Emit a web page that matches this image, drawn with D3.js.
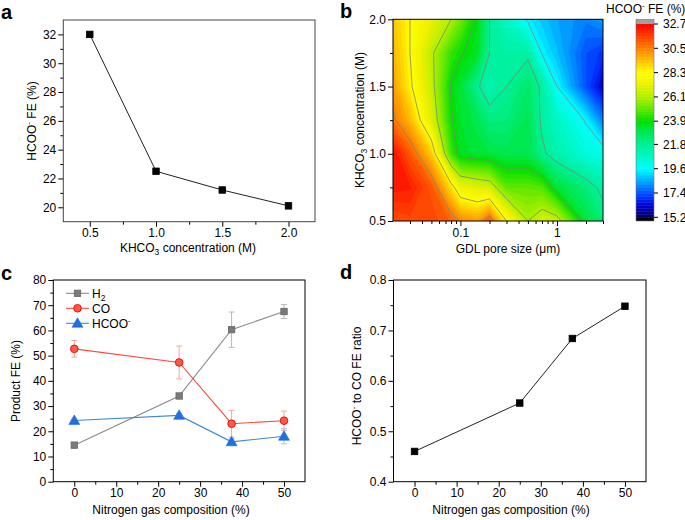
<!DOCTYPE html>
<html><head><meta charset="utf-8">
<script src="https://cdn.jsdelivr.net/npm/d3@7"></script>
<style>body{margin:0;background:#fff} svg text{font-family:"Liberation Sans",Arial,sans-serif}</style>
</head><body><svg id="c" width="685" height="520"></svg>
<script>
// ---------------- DATA ----------------
// panel a
const concA = [0.5, 1.0, 1.5, 2.0];
const feA = [32.0, 22.5, 21.2, 20.1];

// panel b (contour map): pore sizes (um) x KHCO3 concentration (M)
const poreSizes = [0.02, 0.03, 0.05, 0.08, 0.1, 0.15, 0.2, 0.3, 0.5, 0.7, 1.0, 2.0, 3.0];
const concB = [0.5, 0.75, 1.0, 1.25, 1.5, 1.75, 2.0];
const feB_050 = [31.3, 31.5, 31.5, 31.0, 30.4, 30.0, 31.2, 28.3, 26.1, 26.8, 26.6, 23.3, 22.3];
const feB_075 = [32.3, 32.2, 31.2, 28.8, 27.4, 27.0, 26.8, 25.0, 25.0, 24.8, 23.3, 22.3, 21.5];
const feB_100 = [32.5, 31.2, 29.2, 24.6, 23.5, 23.3, 23.2, 23.0, 23.0, 22.0, 21.3, 20.3, 20.1];
const feB_125 = [30.7, 29.5, 27.0, 24.0, 23.4, 23.0, 22.2, 22.3, 23.0, 21.6, 20.8, 19.5, 18.0];
const feB_150 = [30.0, 28.5, 26.5, 23.8, 23.3, 21.9, 21.3, 21.8, 22.6, 21.6, 19.6, 17.4, 16.2];
const feB_175 = [29.6, 28.3, 26.3, 24.5, 24.0, 23.5, 21.8, 21.5, 21.6, 19.5, 18.8, 17.4, 17.0];
const feB_200 = [29.3, 28.3, 27.2, 26.1, 25.2, 23.7, 21.8, 20.8, 19.4, 18.9, 18.5, 18.0, 18.4];
const cbTicks = [15.2, 17.4, 19.6, 21.8, 23.9, 26.1, 28.3, 30.5, 32.7];
const lineLevels = [19.6, 21.8, 23.9, 26.1, 28.3, 30.5];

// panel c
const n2 = [0, 25, 37.5, 50];
const h2 = [14.5, 34.0, 60.3, 67.5];
const h2Err = [0.6, 0.8, 7.0, 2.8];
const co = [52.7, 47.3, 23.0, 24.2];
const coErr = [3.3, 6.5, 5.3, 3.8];
const hcoo = [24.3, 26.3, 15.8, 18.0];
const hcooErr = [0.6, 0.8, 1.2, 3.0];

// panel d
const ratio = [0.46, 0.556, 0.684, 0.748];

// ---------------- HELPERS ----------------
const svg = d3.select("#c");
const FS = 12;

function label(g, x, y, parts, opt = {}) {
  const t = g.append("text").attr("x", x).attr("y", y).attr("font-size", opt.size || FS)
    .attr("text-anchor", opt.anchor || "middle").attr("fill", "#000");
  if (opt.rotate) t.attr("transform", `rotate(-90,${x},${y})`);
  if (opt.bold) t.attr("font-weight", "bold");
  let shift = 0;
  parts.forEach(p => {
    const s = t.append("tspan").text(p.t);
    let target = 0;
    if (p.sup) { target = -5; s.attr("font-size", 8); }
    if (p.sub) { target = 3; s.attr("font-size", 8.5); }
    s.attr("dy", target - shift);
    shift = target;
  });
  return t;
}

function axes(g, x, y, o) {
  const [x0, x1] = x.range(), [y0, y1] = y.range();
  const gx = g.append("g").attr("transform", `translate(0,${y0})`)
    .call(d3.axisBottom(x).tickValues(o.xMajor).tickFormat(o.xFmt).tickSizeInner(5).tickSizeOuter(0).tickPadding(2));
  const gxm = g.append("g").attr("transform", `translate(0,${y0})`)
    .call(d3.axisBottom(x).tickValues(o.xMinor).tickFormat("").tickSizeInner(3).tickSizeOuter(0));
  const gy = g.append("g").attr("transform", `translate(${x0},0)`)
    .call(d3.axisLeft(y).tickValues(o.yMajor).tickFormat(o.yFmt).tickSizeInner(5).tickSizeOuter(0).tickPadding(2));
  const gym = g.append("g").attr("transform", `translate(${x0},0)`)
    .call(d3.axisLeft(y).tickValues(o.yMinor).tickFormat("").tickSizeInner(3).tickSizeOuter(0));
  [gx, gxm, gy, gym].forEach(a => {
    a.select(".domain").remove();
    a.attr("font-family", null).attr("font-size", null);
    a.selectAll("text").attr("font-size", FS).attr("fill", "#000");
    a.selectAll("line").attr("stroke", "#000");
  });
  g.append("rect").attr("x", x0).attr("y", y1).attr("width", x1 - x0).attr("height", y0 - y1)
    .attr("fill", "none").attr("stroke", o.frame || "#000").attr("stroke-width", 1);
}

function squares(g, xs, ys, x, y, size, fill, stroke) {
  g.selectAll(null).data(xs).enter().append("rect")
    .attr("x", (d, i) => x(d) - size / 2).attr("y", (d, i) => y(ys[i]) - size / 2)
    .attr("width", size).attr("height", size).attr("fill", fill).attr("stroke", stroke).attr("stroke-width", 0.8);
}

// ---------------- PANEL A ----------------
const xA = d3.scaleLinear().domain([0.3, 2.2]).range([63.3, 315]);
const yA = d3.scaleLinear().domain([19, 33]).range([221.7, 20]);
const gA = svg.append("g");
axes(gA, xA, yA, {
  xMajor: [0.5, 1.0, 1.5, 2.0], xMinor: [0.75, 1.25, 1.75], xFmt: d3.format(".1f"),
  yMajor: [20, 22, 24, 26, 28, 30, 32], yMinor: [21, 23, 25, 27, 29, 31], yFmt: d3.format("d"), frame: "#444"
});
gA.append("path").datum(concA.map((c, i) => [c, feA[i]]))
  .attr("d", d3.line().x(d => xA(d[0])).y(d => yA(d[1]))).attr("fill", "none").attr("stroke", "#222").attr("stroke-width", 1);
squares(gA, concA, feA, xA, yA, 6.5, "#000", "#000");
label(gA, 188, 252, [{t: "KHCO"}, {t: "3", sub: true}, {t: " concentration (M)"}]);
label(gA, 35.5, 121, [{t: "HCOO"}, {t: "-", sup: true}, {t: " FE (%)"}], {rotate: true});
label(gA, 1, 19, [{t: "a"}], {anchor: "start", size: 20, bold: true});

// ---------------- PANEL B ----------------
const xB = d3.scaleLog().domain([0.02, 3]).range([393, 603]);
const yB = d3.scaleLinear().domain([0.5, 2.0]).range([221, 19.3]);
const gB = svg.append("g");
const colorStops = [15.2, 15.6, 16.3, 17.0, 17.4, 18.5, 19.6, 20.7, 21.8, 23.0, 23.9, 25.0, 26.1, 27.3, 28.3, 29.4, 30.5, 31.6, 32.7];
const colorVals = ["#000050", "#00008c", "#0000d0", "#0030ff", "#0050ff", "#00a8ff", "#00ffff", "#00f8c8", "#00f098", "#00e850",
  "#00e000", "#60e800", "#b0f000", "#f0f000", "#ffff00", "#ffc000", "#ff8000", "#ff4000", "#ff0000"];
const color = d3.scaleLinear().domain(colorStops).range(colorVals).interpolate(d3.interpolateRgb);

const rowsB = [feB_050, feB_075, feB_100, feB_125, feB_150, feB_175, feB_200];
const nx = poreSizes.length, ny = concB.length;
const grid = [];
rowsB.forEach(r => r.forEach(v => grid.push(v)));
const lx = poreSizes.map(Math.log10);
function idx(c, arr) {
  const f = Math.max(0, Math.min(arr.length - 1, c - 0.5));
  const i = Math.min(arr.length - 2, Math.floor(f));
  const t = f - i;
  return arr[i] * (1 - t) + arr[i + 1] * t;
}
const toPx = p => [xB(Math.pow(10, idx(p[0], lx))), yB(idx(p[1], concB))];

const nBands = 64;
const step = (32.7 - 15.2) / nBands;
const bandT = d3.range(nBands).map(i => 15.2 + i * step);
bandT[0] = 10;
const bands = d3.contours().size([nx, ny]).thresholds(bandT)(grid);

svg.append("clipPath").attr("id", "clipB").append("rect")
  .attr("x", 393).attr("y", 19.3).attr("width", 210).attr("height", 221 - 19.3);
const gMap = gB.append("g").attr("clip-path", "url(#clipB)");
function ringPath(coords) {
  return coords.map(poly => poly.map(ring => "M" + ring.map(p => toPx(p).join(",")).join("L") + "Z").join("")).join("");
}
bands.forEach((b, i) => {
  const v = 15.2 + (i + 0.5) * step;
  gMap.append("path").attr("d", ringPath(b.coordinates)).attr("fill", color(v))
    .attr("stroke", color(v)).attr("stroke-width", 0.3).attr("fill-rule", "evenodd");
});
// contour lines
const lines = d3.contours().size([nx, ny]).thresholds(lineLevels)(grid);
lines.forEach(l => {
  let d = "";
  l.coordinates.forEach(poly => poly.forEach(ring => {
    for (let k = 0; k < ring.length - 1; k++) {
      const a = ring[k], b = ring[k + 1];
      const onEdge = q => (q[0] <= 0.5 || q[0] >= nx - 0.5 || q[1] <= 0.5 || q[1] >= ny - 0.5);
      const sameEdge = (a[0] <= 0.5 && b[0] <= 0.5) || (a[0] >= nx - 0.5 && b[0] >= nx - 0.5) ||
        (a[1] <= 0.5 && b[1] <= 0.5) || (a[1] >= ny - 0.5 && b[1] >= ny - 0.5);
      if (onEdge(a) && onEdge(b) && sameEdge) continue;
      const pa = toPx(a), pb = toPx(b);
      d += "M" + pa.join(",") + "L" + pb.join(",");
    }
  }));
  gMap.append("path").attr("d", d).attr("fill", "none").attr("stroke", "#7a8a70").attr("stroke-width", 0.8);
});
axes(gB, xB, yB, {
  xMajor: [0.1, 1], xMinor: [0.03, 0.04, 0.05, 0.06, 0.07, 0.08, 0.09, 0.2, 0.3, 0.4, 0.5, 0.6, 0.7, 0.8, 0.9, 2, 3], xFmt: d => String(d),
  yMajor: [0.5, 1.0, 1.5, 2.0], yMinor: [0.75, 1.25, 1.75], yFmt: d3.format(".1f")
});
label(gB, 508, 253, [{t: "GDL pore size (μm)"}]);
label(gB, 364, 120, [{t: "KHCO"}, {t: "3", sub: true}, {t: " concentration (M)"}], {rotate: true});
label(gB, 340, 17.5, [{t: "b"}], {anchor: "start", size: 20, bold: true});

// colorbar
const yCb = d3.scaleLinear().domain([15.2, 32.7]).range([217.3, 24]);
const cbX = 636, cbW = 18;
const gCb = gB.append("g");
d3.range(nBands).forEach(i => {
  const v0 = 15.2 + i * step, v1 = v0 + step;
  gCb.append("rect").attr("x", cbX).attr("y", yCb(v1)).attr("width", cbW).attr("height", yCb(v0) - yCb(v1) + 0.4)
    .attr("fill", color(v0 + step / 2));
});
gCb.append("rect").attr("x", cbX).attr("y", 19.3).attr("width", cbW).attr("height", yCb(32.7) - 19.3).attr("fill", "#a0a0a0");
gCb.append("rect").attr("x", cbX).attr("y", yCb(15.2)).attr("width", cbW).attr("height", 221 - yCb(15.2)).attr("fill", "#000");
gCb.append("rect").attr("x", cbX).attr("y", 19.3).attr("width", cbW).attr("height", 221 - 19.3)
  .attr("fill", "none").attr("stroke", "#777").attr("stroke-width", 0.6);
cbTicks.forEach(t => {
  gCb.append("line").attr("x1", cbX + cbW).attr("x2", cbX + cbW + 4).attr("y1", yCb(t)).attr("y2", yCb(t)).attr("stroke", "#000");
  gCb.append("text").attr("x", 663).attr("y", yCb(t)).attr("dy", "0.35em").attr("font-size", FS).text(t.toFixed(1));
});
label(gCb, 606, 13, [{t: "HCOO"}, {t: "-", sup: true}, {t: " FE (%)"}], {anchor: "start"});

// ---------------- PANEL C ----------------
const xC = d3.scaleLinear().domain([-5, 55]).range([53.3, 305]);
const yC = d3.scaleLinear().domain([0, 80]).range([481.7, 280]);
const gC = svg.append("g");
axes(gC, xC, yC, {
  xMajor: [0, 10, 20, 30, 40, 50], xMinor: [5, 15, 25, 35, 45], xFmt: d3.format("d"),
  yMajor: [0, 10, 20, 30, 40, 50, 60, 70, 80], yMinor: [5, 15, 25, 35, 45, 55, 65, 75], yFmt: d3.format("d")
});
const seriesC = [
  {v: h2, e: h2Err, line: "#8a8a8a", err: "#b8b8b8", fill: "#7a7a7a", stroke: "#666", m: "sq", name: [{t: "H"}, {t: "2", sub: true}]},
  {v: co, e: coErr, line: "#ff4a3a", err: "#f4a8a2", fill: "#ff5a48", stroke: "#e8100a", m: "ci", name: [{t: "CO"}]},
  {v: hcoo, e: hcooErr, line: "#3f86d8", err: "#a4c4ec", fill: "#1f6fdc", stroke: "#1f6fdc", m: "tr", name: [{t: "HCOO"}, {t: "-", sup: true}]}
];
function marker(g, type, cx, cy, s) {
  if (type === "sq") g.append("rect").attr("x", cx - 3.2).attr("y", cy - 3.2).attr("width", 6.4).attr("height", 6.4)
    .attr("fill", s.fill).attr("stroke", s.stroke).attr("stroke-width", 0.8);
  else if (type === "ci") g.append("circle").attr("cx", cx).attr("cy", cy).attr("r", 3.8)
    .attr("fill", s.fill).attr("stroke", s.stroke).attr("stroke-width", 1);
  else g.append("path").attr("d", d3.symbol(d3.symbolTriangle, 52)()).attr("transform", `translate(${cx},${cy + 0.8})`)
    .attr("fill", s.fill).attr("stroke", s.stroke).attr("stroke-width", 0.6);
}
seriesC.forEach(s => {
  n2.forEach((x, i) => {
    const cx = xC(x), t = yC(s.v[i] + s.e[i]), b = yC(s.v[i] - s.e[i]);
    gC.append("path").attr("d", `M${cx},${t}L${cx},${b}M${cx - 3},${t}L${cx + 3},${t}M${cx - 3},${b}L${cx + 3},${b}`)
      .attr("stroke", s.err).attr("stroke-width", 1).attr("fill", "none");
  });
});
seriesC.forEach(s => {
  gC.append("path").datum(n2.map((x, i) => [x, s.v[i]]))
    .attr("d", d3.line().x(d => xC(d[0])).y(d => yC(d[1]))).attr("fill", "none").attr("stroke", s.line).attr("stroke-width", 1.1);
});
seriesC.forEach(s => n2.forEach((x, i) => marker(gC, s.m, xC(x), yC(s.v[i]), s)));
// legend
seriesC.forEach((s, k) => {
  const ly = 293.3 + k * 15;
  gC.append("line").attr("x1", 66).attr("x2", 89).attr("y1", ly).attr("y2", ly).attr("stroke", s.line).attr("stroke-width", 1.1);
  marker(gC, s.m, 77.5, ly, s);
  label(gC, 92, ly + 4.3, s.name, {anchor: "start"});
});
label(gC, 171, 514, [{t: "Nitrogen gas composition (%)"}]);
label(gC, 20, 381, [{t: "Product FE (%)"}], {rotate: true});
label(gC, 1, 280, [{t: "c"}], {anchor: "start", size: 20, bold: true});

// ---------------- PANEL D ----------------
const xD = d3.scaleLinear().domain([-5, 55]).range([393.5, 646]);
const yD = d3.scaleLinear().domain([0.4, 0.8]).range([481.7, 280]);
const gD = svg.append("g");
axes(gD, xD, yD, {
  xMajor: [0, 10, 20, 30, 40, 50], xMinor: [5, 15, 25, 35, 45], xFmt: d3.format("d"),
  yMajor: [0.4, 0.5, 0.6, 0.7, 0.8], yMinor: [0.45, 0.55, 0.65, 0.75], yFmt: d3.format(".1f")
});
gD.append("path").datum(n2.map((x, i) => [x, ratio[i]]))
  .attr("d", d3.line().x(d => xD(d[0])).y(d => yD(d[1]))).attr("fill", "none").attr("stroke", "#222").attr("stroke-width", 1);
squares(gD, n2, ratio, xD, yD, 6.5, "#000", "#000");
label(gD, 511, 514, [{t: "Nitrogen gas composition (%)"}]);
label(gD, 361, 386, [{t: "HCOO"}, {t: "-", sup: true}, {t: " to CO FE ratio"}], {rotate: true});
label(gD, 340, 278.5, [{t: "d"}], {anchor: "start", size: 20, bold: true});
</script></body></html>
